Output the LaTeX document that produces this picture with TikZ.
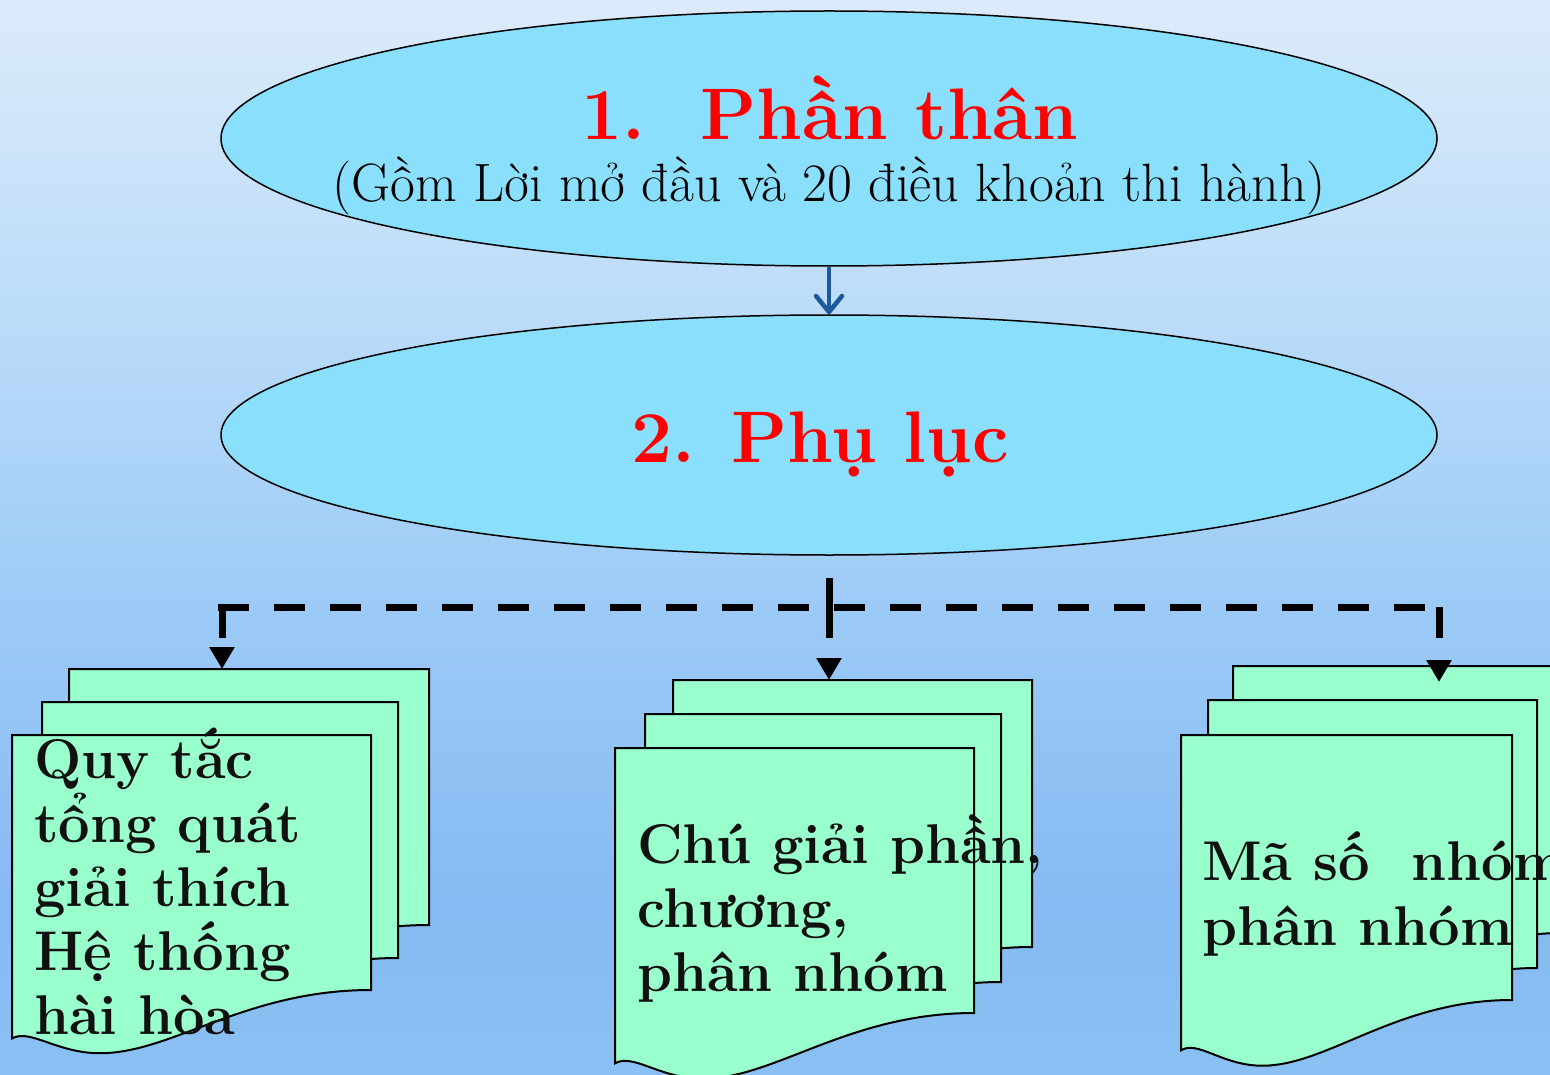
\documentclass[tikz,border=0pt]{standalone}
\usetikzlibrary{shapes.geometric,arrows.meta}
\definecolor{bgA}{HTML}{8BC0F4}
\definecolor{bgB}{HTML}{85BAF2}
\definecolor{bgC}{HTML}{9DCBF7}
\definecolor{bgD}{HTML}{BEDDF9}
\definecolor{bgE}{HTML}{DCEBFB}
\definecolor{ellfill}{HTML}{89DFFC}
\definecolor{sheetfill}{HTML}{99FFCC}
\definecolor{arrowblue}{HTML}{1C5A9C}
\definecolor{titlered}{HTML}{FF0000}
\definecolor{ink}{HTML}{111111}
\pgfdeclareverticalshading{bgshade}{100bp}{color(0bp)=(bgA); color(25bp)=(bgA); color(33bp)=(bgB); color(47bp)=(bgC); color(61.5bp)=(bgD); color(75bp)=(bgE); color(100bp)=(bgE)}
\newcommand\mysheet[4]{%
  \filldraw[sheetline] (#1,#2) -- ++(#3,0) -- ++(0,#4)
    .. controls +(-0.35*#3,0) and +(0.2*#3,0) .. ++(-0.755*#3,0.248*#4)
    .. controls +(-0.12*#3,0) and +(0.05*#3,-0.04*#4) .. ++(-0.245*#3,-0.058*#4)
    -- cycle;}
\begin{document}
\begin{tikzpicture}[x=1pt,y=-1pt,
  ellbox/.style={ellipse,draw=black,line width=1.5pt,fill=ellfill,inner sep=0pt},
  sheetline/.style={draw=black,line width=2pt,fill=sheetfill,line join=miter},
  titletext/.style={font=\fontsize{73}{80}\selectfont\bfseries,text=titlered,inner sep=0pt},
  subtext/.style={font=\fontsize{54}{60}\selectfont,text=black,inner sep=0pt},
  bodytext/.style={font=\fontsize{56}{64}\selectfont\bfseries,text=ink,inner sep=0pt,anchor=base west},
  bluearrow/.style={draw=arrowblue,line width=4.5pt,-{Straight Barb[length=16pt,width=26pt,line cap=round,line join=round]}},
  dashline/.style={draw=black,line width=7pt,dash pattern=on 31pt off 25pt},
  dasharrow/.style={dashline,-{Triangle[length=22pt,width=24pt]}}
]
\useasboundingbox (0,0) rectangle (1550,1075);
\clip (0,0) rectangle (1550,1075);
\shade[shading=bgshade] (0,0) rectangle (1550,1075);

% ellipses
\node[ellbox,minimum width=1216pt,minimum height=255pt] (e1) at (829,138.5) {};
\node[ellbox,minimum width=1216pt,minimum height=240pt] (e2) at (829,435) {};
\node[titletext,anchor=base] (t1) at (830,140) {1.\ \ Phần thân};
\node[subtext,anchor=base] (t1s) at (829,202) {(Gồm Lời mở đầu và 20 điều khoản thi hành)};
\node[titletext,anchor=base] (t2) at (820,462) {2. Phụ lục};
\draw[bluearrow] (e1.south) -- (e2.north);

% document stacks
\mysheet{69}{669}{360}{256}
\mysheet{42}{702}{356}{256}
\mysheet{12}{735}{359}{255}
\mysheet{673}{680}{359}{267}
\mysheet{645}{714}{356}{268}
\mysheet{615}{748}{359}{265}
\mysheet{1233}{666}{330}{267}
\mysheet{1208}{700}{329}{268}
\mysheet{1181}{735}{331}{265}

% connectors
\coordinate (jL) at (222,607);
\coordinate (jM) at (829,607);
\coordinate (jR) at (1439,607);
\coordinate (hL) at (218,607);
\coordinate (hR) at (1437,607);
\coordinate (dL) at (222,669);
\coordinate (dM) at (829,680);
\coordinate (dR) at (1439,682);
\draw[dashline] (829,578) -- (jM);
\draw[dashline] (hL) -- (hR);
\draw[dasharrow] (jL) -- (dL);
\draw[dasharrow] (jM) -- (dM);
\draw[dasharrow] (jR) -- (dR);

% texts
\node[bodytext] (a1) at (34,778) {Quy tắc};
\node[bodytext] (a2) at (34,842) {tổng quát};
\node[bodytext] (a3) at (34,906) {giải thích};
\node[bodytext] (a4) at (34,970) {Hệ thống};
\node[bodytext] (a5) at (34,1034) {hài hòa};
\node[bodytext] (b1) at (637,863) {Chú giải phần,};
\node[bodytext] (b2) at (637,927) {chương,};
\node[bodytext] (b3) at (637,991) {phân nhóm};
\node[bodytext] (c1) at (1202,880) {Mã số\ \ nhóm,};
\node[bodytext] (c2) at (1202,945) {phân nhóm};
\end{tikzpicture}
\end{document}
